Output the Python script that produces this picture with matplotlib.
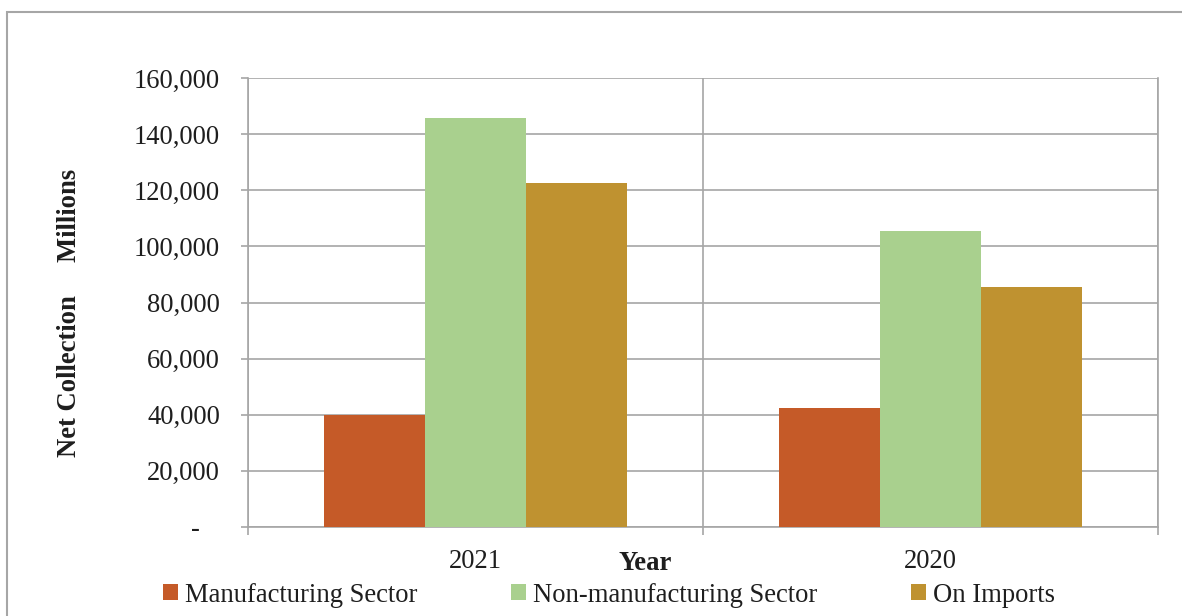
import matplotlib.pyplot as plt
from matplotlib.patches import Rectangle, Patch
from matplotlib.ticker import FuncFormatter, FixedLocator
import numpy as np

# Data
years = ['2021', '2020']
series_names = ['Manufacturing Sector', 'Non-manufacturing Sector', 'On Imports']
manufacturing = [40000, 42500]
non_manufacturing = [145700, 105500]
on_imports = [122600, 85700]
colors = ['#C55A28', '#A9D08E', '#BF9230']

plt.rcParams['font.family'] = ['Liberation Serif', 'DejaVu Serif']
text_color = '#1E1E1E'
grid_color = '#A6A6A6'
fs = 19.2

W, H = 1182, 616
fig = plt.figure(figsize=(W / 100, H / 100), dpi=100)
ax = fig.add_axes([248 / W, 1 - 527 / H, 910 / W, 449 / H])

x = np.arange(len(years))
width = 0.222
values = [manufacturing, non_manufacturing, on_imports]
for i, (vals, col) in enumerate(zip(values, colors)):
    ax.bar(x + (i - 1) * width, vals, width, color=col, zorder=3)

ax.set_xlim(-0.5, len(years) - 0.5)
ax.set_ylim(0, 160000)
ax.set_yticks(np.arange(0, 160001, 20000))


def fmt(v, pos):
    if v == 0:
        return '-   '
    return f'{int(v):,}'


ax.yaxis.set_major_formatter(FuncFormatter(fmt))
ax.set_xticks(x)
ax.set_xticklabels(years)
ax.xaxis.set_minor_locator(FixedLocator(np.arange(-0.5, len(years), 1.0)))

ax.grid(axis='y', color=grid_color, lw=1.2, zorder=0)
ax.grid(axis='x', which='minor', color=grid_color, lw=1.2, zorder=0)
ax.grid(axis='x', which='major', visible=False)

for s in ['left', 'bottom', 'right']:
    ax.spines[s].set_color(grid_color)
    ax.spines[s].set_linewidth(1.2)
ax.spines['top'].set_visible(False)

ax.tick_params(axis='y', length=5, width=1.2, color=grid_color, pad=15,
               labelsize=fs, labelcolor=text_color)
ax.tick_params(axis='x', which='major', length=0, pad=16,
               labelsize=fs, labelcolor=text_color)
ax.tick_params(axis='x', which='minor', length=6, width=1.2, color=grid_color)

# axis titles
fig.text(70 / W, 1 - 313 / H, 'Net Collection     Millions', rotation=90,
         ha='center', va='center', fontsize=fs, fontweight='bold', color=text_color)
fig.text(645 / W, 1 - 564 / H, 'Year', ha='center', va='center',
         fontsize=fs, fontweight='bold', color=text_color)

# legend
handles = [Patch(facecolor=c, edgecolor='none') for c in colors]
fig.legend(handles, series_names, loc='center left',
           bbox_to_anchor=(163 / W, 1 - 595 / H), ncol=3, frameon=False,
           fontsize=fs, handlelength=0.58, handleheight=0.58, handletextpad=0.25,
           columnspacing=3.5, borderpad=0, borderaxespad=0, labelcolor=text_color)

# outer chart border (cropped on the right and bottom)
fig.add_artist(Rectangle((7 / W, -0.1), 1.2, 1 - 12 / H + 0.1,
                         transform=fig.transFigure, fill=False,
                         edgecolor=grid_color, lw=1.5))

fig.savefig('out.png', dpi=100)
